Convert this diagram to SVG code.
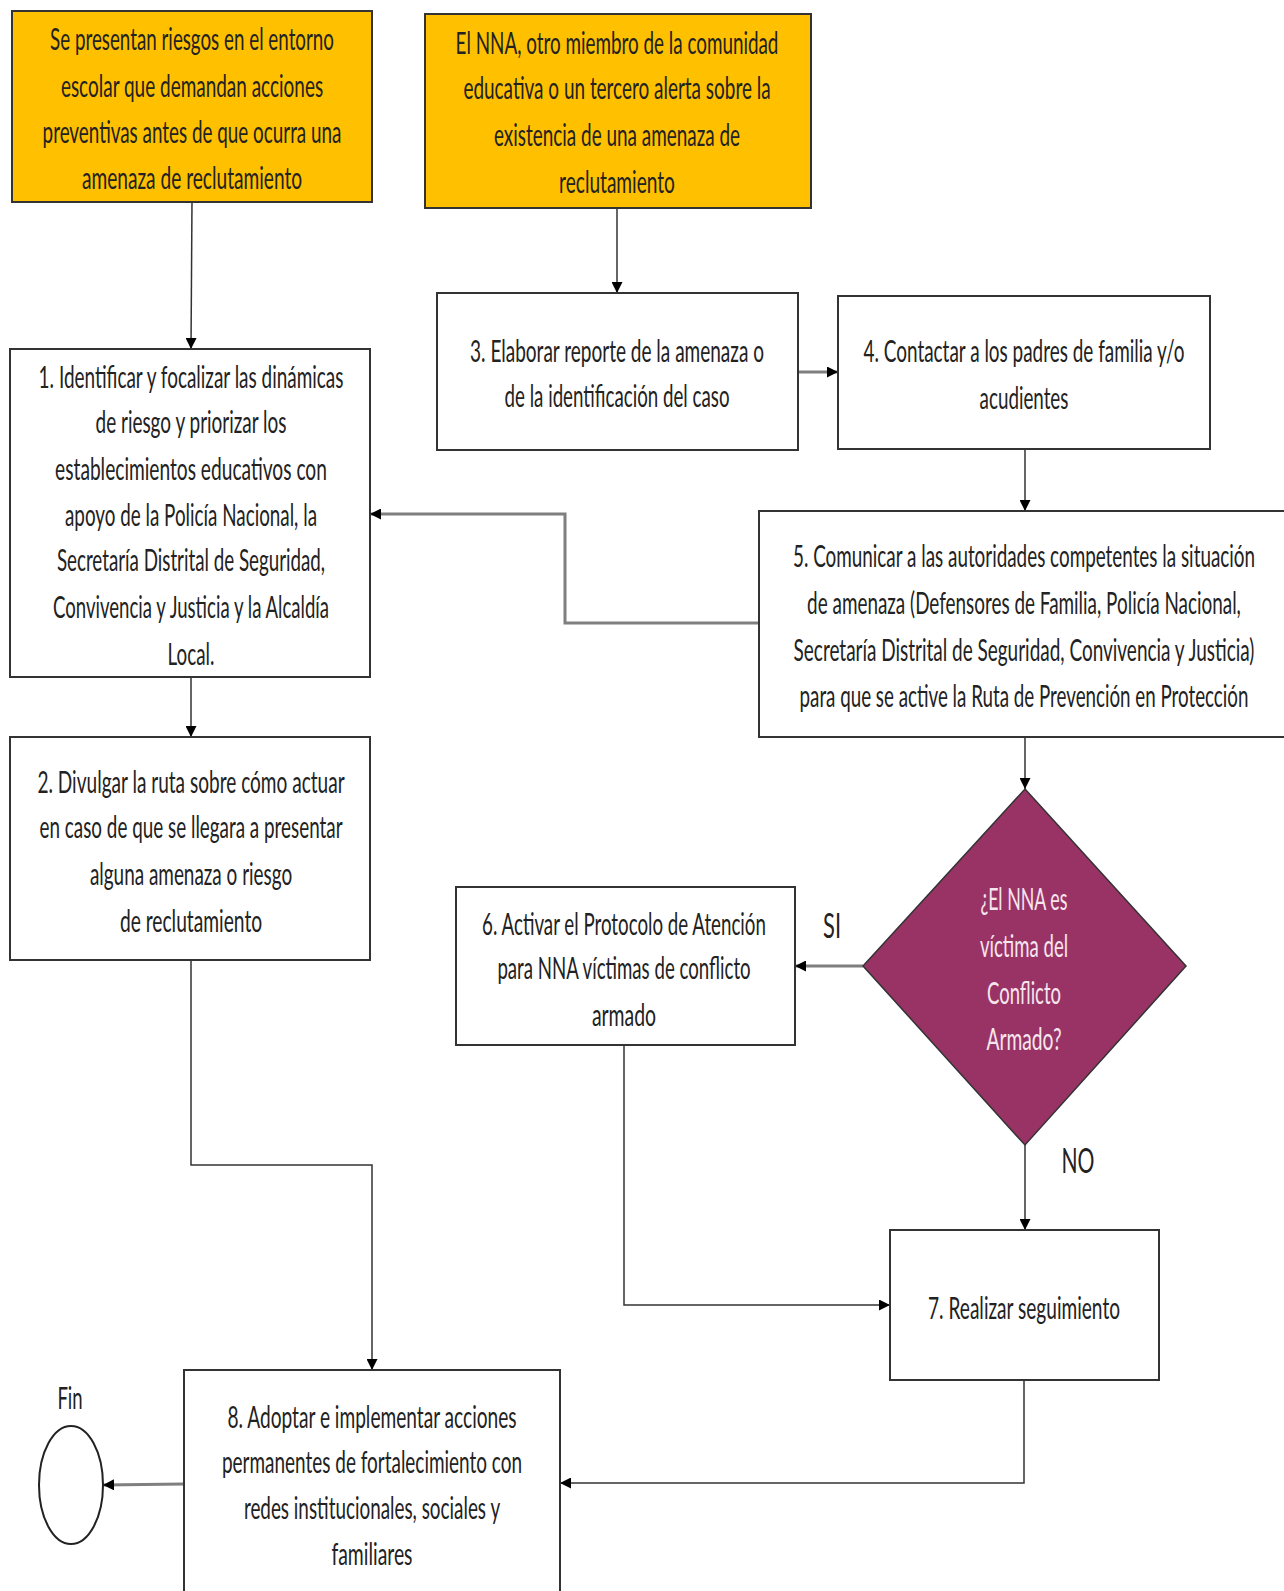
<svg xmlns="http://www.w3.org/2000/svg" width="1284" height="1591" viewBox="0 0 1284 1591">
<defs>
<marker id="arr" viewBox="0 0 10 10" refX="10" refY="5" markerWidth="11" markerHeight="11" markerUnits="userSpaceOnUse" orient="auto">
<path d="M0,0 L10,5 L0,10 z" fill="#000"/>
</marker>
<style>
.box{fill:#fff;stroke:#333;stroke-width:2}
.org{fill:#FFC000;stroke:#333;stroke-width:2}
.dia{fill:#993366;stroke:#333;stroke-width:1.5}
.t{font-family:Lato,"Liberation Sans",sans-serif;font-size:31px;fill:#222;text-anchor:middle}
.w{fill:#f5e6ee}
.big{font-size:34px}
.c{fill:none;stroke:#333;stroke-width:1.5}
.g{fill:none;stroke:#7f7f7f;stroke-width:3}
</style>
</defs>
<rect width="1284" height="1591" fill="#fff"/>

<g id="connectors">
<line class="c" x1="192" y1="201" x2="191" y2="349" marker-end="url(#arr)"/>
<line class="c" x1="617" y1="208" x2="617" y2="293" marker-end="url(#arr)"/>
<line class="g" x1="798" y1="372" x2="838" y2="372" marker-end="url(#arr)"/>
<line class="c" x1="1025" y1="449" x2="1025" y2="511" marker-end="url(#arr)"/>
<polyline class="g" points="759,623 565,623 565,514 370,514" marker-end="url(#arr)"/>
<line class="c" x1="191" y1="677" x2="191" y2="737" marker-end="url(#arr)"/>
<line class="c" x1="1025" y1="737" x2="1025" y2="789" marker-end="url(#arr)"/>
<line class="g" x1="863" y1="966" x2="795" y2="966" marker-end="url(#arr)"/>
<line class="c" x1="1025" y1="1145" x2="1025" y2="1230" marker-end="url(#arr)"/>
<polyline class="c" points="624,1045 624,1305 890,1305" marker-end="url(#arr)"/>
<polyline class="c" points="191,960 191,1165 372,1165 372,1370" marker-end="url(#arr)"/>
<polyline class="c" points="1024,1380 1024,1483 560,1483" marker-end="url(#arr)"/>
<line class="g" x1="184" y1="1484" x2="103" y2="1485" marker-end="url(#arr)"/>
</g>

<g id="startA">
<rect class="org" x="12" y="11" width="360" height="191"/>
<text class="t" transform="translate(192,50) scale(0.6,1)" textLength="473" lengthAdjust="spacingAndGlyphs">Se presentan riesgos en el entorno</text>
<text class="t" transform="translate(192,97) scale(0.6,1)" textLength="437" lengthAdjust="spacingAndGlyphs">escolar que demandan acciones</text>
<text class="t" transform="translate(192,143) scale(0.6,1)" textLength="498" lengthAdjust="spacingAndGlyphs">preventivas antes de que ocurra una</text>
<text class="t" transform="translate(192,189) scale(0.6,1)" textLength="367" lengthAdjust="spacingAndGlyphs">amenaza de reclutamiento</text>
</g>

<g id="startB">
<rect class="org" x="425" y="14" width="386" height="194"/>
<text class="t" transform="translate(617,54) scale(0.6,1)" textLength="538" lengthAdjust="spacingAndGlyphs">El NNA, otro miembro de la comunidad</text>
<text class="t" transform="translate(617,99) scale(0.6,1)" textLength="512" lengthAdjust="spacingAndGlyphs">educativa o un tercero alerta sobre la</text>
<text class="t" transform="translate(617,146) scale(0.6,1)" textLength="410" lengthAdjust="spacingAndGlyphs">existencia de una amenaza de</text>
<text class="t" transform="translate(617,193) scale(0.6,1)" textLength="193" lengthAdjust="spacingAndGlyphs">reclutamiento</text>
</g>

<g id="n3">
<rect class="box" x="437" y="293" width="361" height="157"/>
<text class="t" transform="translate(617,362) scale(0.6,1)" textLength="490" lengthAdjust="spacingAndGlyphs">3. Elaborar reporte de la amenaza o</text>
<text class="t" transform="translate(617,407) scale(0.6,1)" textLength="375" lengthAdjust="spacingAndGlyphs">de la identificación del caso</text>
</g>

<g id="n4">
<rect class="box" x="838" y="296" width="372" height="153"/>
<text class="t" transform="translate(1024,362) scale(0.6,1)" textLength="535" lengthAdjust="spacingAndGlyphs">4. Contactar a los padres de familia y/o</text>
<text class="t" transform="translate(1024,409) scale(0.6,1)" textLength="148" lengthAdjust="spacingAndGlyphs">acudientes</text>
</g>

<g id="n1">
<rect class="box" x="10" y="349" width="360" height="328"/>
<text class="t" transform="translate(191,388) scale(0.6,1)" textLength="508" lengthAdjust="spacingAndGlyphs">1. Identificar y focalizar las dinámicas</text>
<text class="t" transform="translate(191,433) scale(0.6,1)" textLength="318" lengthAdjust="spacingAndGlyphs">de riesgo y priorizar los</text>
<text class="t" transform="translate(191,480) scale(0.6,1)" textLength="453" lengthAdjust="spacingAndGlyphs">establecimientos educativos  con</text>
<text class="t" transform="translate(191,526) scale(0.6,1)" textLength="420" lengthAdjust="spacingAndGlyphs">apoyo de la Policía Nacional, la</text>
<text class="t" transform="translate(191,571) scale(0.6,1)" textLength="447" lengthAdjust="spacingAndGlyphs">Secretaría Distrital de Seguridad,</text>
<text class="t" transform="translate(191,618) scale(0.6,1)" textLength="460" lengthAdjust="spacingAndGlyphs">Convivencia y Justicia y la Alcaldía</text>
<text class="t" transform="translate(191,665) scale(0.6,1)" textLength="78" lengthAdjust="spacingAndGlyphs">Local.</text>
</g>

<g id="n2">
<rect class="box" x="10" y="737" width="360" height="223"/>
<text class="t" transform="translate(191,793) scale(0.6,1)" textLength="512" lengthAdjust="spacingAndGlyphs">2.  Divulgar la ruta sobre cómo actuar</text>
<text class="t" transform="translate(191,838) scale(0.6,1)" textLength="505" lengthAdjust="spacingAndGlyphs">en caso de que se llegara a presentar</text>
<text class="t" transform="translate(191,885) scale(0.6,1)" textLength="337" lengthAdjust="spacingAndGlyphs">alguna amenaza o riesgo</text>
<text class="t" transform="translate(191,932) scale(0.6,1)" textLength="237" lengthAdjust="spacingAndGlyphs">de reclutamiento</text>
</g>

<g id="n5">
<rect class="box" x="759" y="511" width="535" height="226"/>
<text class="t" transform="translate(1024,567) scale(0.6,1)" textLength="770" lengthAdjust="spacingAndGlyphs">5. Comunicar a las autoridades competentes la situación</text>
<text class="t" transform="translate(1024,614) scale(0.6,1)" textLength="723" lengthAdjust="spacingAndGlyphs">de amenaza (Defensores de Familia, Policía Nacional,</text>
<text class="t" transform="translate(1024,661) scale(0.6,1)" textLength="768" lengthAdjust="spacingAndGlyphs">Secretaría Distrital  de Seguridad, Convivencia y Justicia)</text>
<text class="t" transform="translate(1024,707) scale(0.6,1)" textLength="748" lengthAdjust="spacingAndGlyphs">para que se active la Ruta de Prevención en Protección</text>
</g>

<g id="decision">
<polygon class="dia" points="1025,789 1186,966 1025,1145 863,966"/>
<text class="t w" transform="translate(1024,910) scale(0.6,1)" textLength="145" lengthAdjust="spacingAndGlyphs">¿El NNA es</text>
<text class="t w" transform="translate(1024,957) scale(0.6,1)" textLength="147" lengthAdjust="spacingAndGlyphs">víctima del</text>
<text class="t w" transform="translate(1024,1004) scale(0.6,1)" textLength="123" lengthAdjust="spacingAndGlyphs">Conflicto</text>
<text class="t w" transform="translate(1024,1050) scale(0.6,1)" textLength="125" lengthAdjust="spacingAndGlyphs">Armado?</text>
</g>

<g id="n6">
<rect class="box" x="456" y="887" width="339" height="158"/>
<text class="t" transform="translate(624,935) scale(0.6,1)" textLength="473" lengthAdjust="spacingAndGlyphs">6. Activar el Protocolo de Atención</text>
<text class="t" transform="translate(624,979) scale(0.6,1)" textLength="422" lengthAdjust="spacingAndGlyphs">para NNA víctimas de conflicto</text>
<text class="t" transform="translate(624,1026) scale(0.6,1)" textLength="107" lengthAdjust="spacingAndGlyphs">armado</text>
</g>

<g id="n7">
<rect class="box" x="890" y="1230" width="269" height="150"/>
<text class="t" transform="translate(1024,1319) scale(0.6,1)" textLength="320" lengthAdjust="spacingAndGlyphs">7. Realizar seguimiento</text>
</g>

<g id="n8">
<rect class="box" x="184" y="1370" width="376" height="240"/>
<text class="t" transform="translate(372,1428) scale(0.6,1)" textLength="482" lengthAdjust="spacingAndGlyphs">8. Adoptar e implementar acciones</text>
<text class="t" transform="translate(372,1473) scale(0.6,1)" textLength="500" lengthAdjust="spacingAndGlyphs">permanentes de fortalecimiento con</text>
<text class="t" transform="translate(372,1519) scale(0.6,1)" textLength="427" lengthAdjust="spacingAndGlyphs">redes institucionales, sociales y</text>
<text class="t" transform="translate(372,1565) scale(0.6,1)" textLength="135" lengthAdjust="spacingAndGlyphs">familiares</text>
</g>

<g id="fin">
<ellipse cx="71" cy="1485" rx="32" ry="59" fill="#fff" stroke="#222" stroke-width="2"/>
<text class="t" transform="translate(70,1409) scale(0.6,1)" textLength="42" lengthAdjust="spacingAndGlyphs">Fin</text>
</g>

<g id="labels">
<text class="t big" transform="translate(832,938) scale(0.6,1)" textLength="30" lengthAdjust="spacingAndGlyphs">SI</text>
<text class="t big" transform="translate(1078,1173) scale(0.6,1)" textLength="55" lengthAdjust="spacingAndGlyphs">NO</text>
</g>
</svg>
